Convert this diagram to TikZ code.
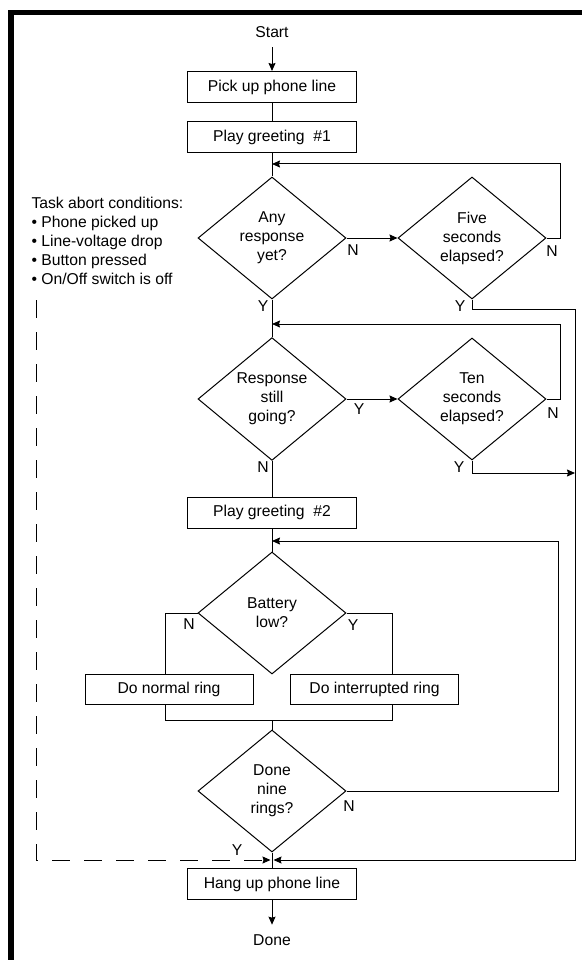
\documentclass[tikz,border=0pt]{standalone}
\usepackage{fontspec}
\setmainfont{Liberation Sans}
\usetikzlibrary{arrows.meta,shapes.geometric}

\begin{document}
\begin{tikzpicture}[x=1pt,y=-1pt,>={Stealth[length=8pt,width=7pt,inset=1pt]},
                    line width=1pt,font=\fontsize{15.7}{19}\selectfont]
  \tikzstyle{box}=[draw,rectangle,minimum width=169pt,minimum height=31pt,inner sep=0pt]
  \tikzstyle{decision}=[draw,diamond,minimum width=148pt,minimum height=122pt,
                        inner sep=0pt,align=center]
  \tikzstyle{lbl}=[inner sep=0pt]

  \useasboundingbox (0,0) rectangle (582,960);
  \draw[line width=5.5pt] (11,960) -- (11,12.5) -- (582,12.5);

  \node (start)                at (272,32)  {Start};
  \node[box] (pick)            at (272,87) {Pick up phone line};
  \node[box] (greet1)          at (272,137) {Play greeting\ \ \#1};
  \node[decision] (any)        at (272,238) {Any\\response\\yet?};
  \node[decision] (five)       at (472,238) {Five\\seconds\\elapsed?};
  \node[decision] (resp)       at (272,399) {Response\\still\\going?};
  \node[decision] (ten)        at (472,399) {Ten\\seconds\\elapsed?};
  \node[box] (greet2)          at (272,512.5) {Play greeting\ \ \#2};
  \node[decision] (batt)       at (272,613) {Battery\\low?};
  \node[box,minimum width=168pt,minimum height=30pt] (normal) at (169,689) {Do normal ring};
  \node[box,minimum width=168pt,minimum height=30pt] (interr) at (374.5,689) {Do interrupted ring};
  \node[decision] (nine)       at (272,791) {Done\\nine\\rings?};
  \node[box] (hang)            at (272,884) {Hang up phone line};
  \node (done)                 at (272,940) {Done};

  \node[align=left,anchor=north west,inner sep=0pt] (abort) at (31,197)
    {Task abort conditions:\\• Phone picked up\\• Line-voltage drop\\• Button pressed\\• On/Off switch is off};

  % branch labels
  \node[lbl] (nAny)  at (353,250) {N};
  \node[lbl] (nFive) at (552,251) {N};
  \node[lbl] (yAny)  at (263,306) {Y};
  \node[lbl] (yFive) at (460,306) {Y};
  \node[lbl] (yResp) at (359,409) {Y};
  \node[lbl] (nTen)  at (553,413) {N};
  \node[lbl] (yTen)  at (459,467) {Y};
  \node[lbl] (nResp) at (263,467) {N};
  \node[lbl] (nBatt) at (189,624) {N};
  \node[lbl] (yBatt) at (353,625) {Y};
  \node[lbl] (nNine) at (349,806) {N};
  \node[lbl] (yNine) at (237,850) {Y};

  \coordinate (loopA)    at (560,164);
  \coordinate (loopB)    at (560,324);
  \coordinate (loopC)    at (558,541);
  \coordinate (railTop)  at (575,309);
  \coordinate (railBot)  at (575,860);
  \coordinate (tenOut)   at (575,473);
  \coordinate (joinL)    at (165,720);
  \coordinate (joinR)    at (392,720);
  \coordinate (abortTop) at (36,300);
  \coordinate (abortBot) at (36,860);

  \draw[->,shorten <=6pt] (start) -- (pick);
  \draw (pick) -- (greet1);
  \draw (greet1) -- (any);
  \draw (any) -- (resp);
  \draw[->] (any) -- (five);
  \draw[->] (five.east) -| (loopA) -- (loopA -| greet1.south);
  \draw[->,shorten >=1.5pt] (five.south) |- (railTop) -- (railBot) -- (railBot -| hang.north);
  \draw[->] (resp) -- (ten);
  \draw[->] (ten.east) -| (loopB) -- (loopB -| any.south);
  \draw[->] (ten.south) |- (tenOut);
  \draw (resp) -- (greet2);
  \draw (greet2) -- (batt);
  \draw (batt.west) -| (normal.north -| joinL);
  \draw (batt.east) -| (interr.north -| joinR);
  \draw (normal.south -| joinL) -- (joinL) -- (joinR) -- (interr.south -| joinR);
  \draw (joinL -| nine.north) -- (nine.north);
  \draw[->] (nine.east) -| (loopC) -- (loopC -| greet2.south);
  \draw (nine) -- (hang);
  \draw[->,shorten >=1.5pt,dash pattern=on 18pt off 14pt] (abortTop) -- (abortBot) -- (abortBot -| nine.south);
  \draw[->,shorten >=6pt] (hang) -- (done);
\end{tikzpicture}
\end{document}
